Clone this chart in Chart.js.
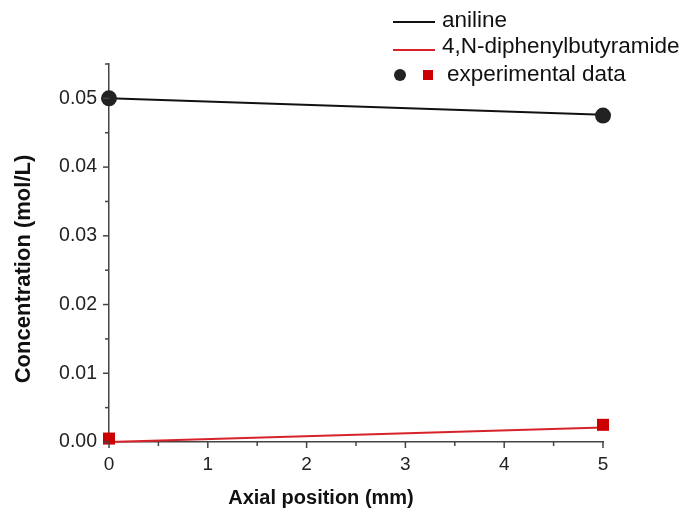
<!DOCTYPE html>
<html>
<head>
<meta charset="utf-8">
<script src="https://cdn.jsdelivr.net/npm/chart.js@4"></script>
<style>
  body { margin: 0; background: #fff; }
  #wrap { width: 694px; height: 513px; position: relative; }
</style>
</head>
<body>
<div id="wrap"><canvas id="chart"></canvas></div>
<script>
// axial positions (mm)
const positions = [0, 5];
// model curves
const anilineModel = [0.05, 0.0476];
const amideModel = [0, 0.0021];
// measured points
const anilineExp = [0.05, 0.0475];
const amideExp = [0.0005, 0.0025];

const legendItems = ['aniline', '4,N-diphenylbutyramide', 'experimental data'];
const xTitle = 'Axial position (mm)';
const yTitle = 'Concentration (mol/L)';

const BLACK = '#111';
const DOT = '#222';
const RED = '#cc0000';
const RED_LINE = '#d8222a';

const pts = ys => positions.map((x, i) => ({ x: x, y: ys[i] }));

// tick marks, axis titles and the legend box
const extras = {
    id: 'extras',
    afterDraw(chart) {
        const ctx = chart.ctx;
        const xs = chart.scales.x, ys = chart.scales.y;
        const area = chart.chartArea;
        ctx.save();
        ctx.strokeStyle = '#444';
        ctx.lineWidth = 1.5;
        // y ticks every 0.005, long ones every 0.01
        for (let i = 0; i <= 11; i++) {
            const py = ys.getPixelForValue(i * 0.005);
            const len = i % 2 === 0 ? 6 : 4;
            ctx.beginPath();
            ctx.moveTo(area.left, py);
            ctx.lineTo(area.left - len, py);
            ctx.stroke();
        }
        // x ticks every 0.5
        for (let i = 0; i <= 10; i++) {
            const px = xs.getPixelForValue(i * 0.5);
            const len = i % 2 === 0 ? 6 : 4;
            ctx.beginPath();
            ctx.moveTo(px, area.bottom);
            ctx.lineTo(px, area.bottom + len);
            ctx.stroke();
        }

        // axis titles
        ctx.fillStyle = BLACK;
        ctx.font = 'bold 20px "Liberation Sans", Arial, sans-serif';
        ctx.textAlign = 'center';
        ctx.textBaseline = 'middle';
        ctx.fillText(xTitle, 321, 498);
        ctx.save();
        ctx.translate(24, 269);
        ctx.rotate(-Math.PI / 2);
        ctx.font = 'bold 22px "Liberation Sans", Arial, sans-serif';
        ctx.fillText(yTitle, 0, 0);
        ctx.restore();

        // legend
        ctx.font = '22.5px "Liberation Sans", Arial, sans-serif';
        ctx.textAlign = 'left';
        ctx.lineWidth = 2;
        ctx.strokeStyle = BLACK;
        ctx.beginPath(); ctx.moveTo(393, 22); ctx.lineTo(435, 22); ctx.stroke();
        ctx.fillText(legendItems[0], 442, 21);
        ctx.strokeStyle = RED_LINE;
        ctx.beginPath(); ctx.moveTo(393, 50); ctx.lineTo(435, 50); ctx.stroke();
        ctx.fillText(legendItems[1], 442, 47);
        ctx.fillStyle = DOT;
        ctx.beginPath(); ctx.arc(400, 75, 6, 0, Math.PI * 2); ctx.fill();
        ctx.fillStyle = RED;
        ctx.fillRect(423, 70, 10, 10);
        ctx.fillStyle = BLACK;
        ctx.fillText(legendItems[2], 447, 75);
        ctx.restore();
    }
};

new Chart(document.getElementById('chart'), {
    type: 'scatter',
    data: {
        datasets: [
            { data: pts(anilineModel), showLine: true, borderColor: BLACK, borderWidth: 2, pointRadius: 0, order: 2, clip: false },
            { data: pts(amideModel), showLine: true, borderColor: RED_LINE, borderWidth: 2, pointRadius: 0, order: 2, clip: false },
            { data: pts(anilineExp), showLine: false, pointStyle: 'circle', pointRadius: 8, backgroundColor: DOT, borderColor: DOT, borderWidth: 0, order: 1, clip: false },
            { data: pts(amideExp), showLine: false, pointStyle: 'rect', pointRadius: 8.5, backgroundColor: RED, borderColor: RED, borderWidth: 0, order: 1, clip: false }
        ]
    },
    options: {
        responsive: true,
        maintainAspectRatio: false,
        animation: false,
        layout: { padding: { left: 0, right: 91, top: 64, bottom: 0 } },
        plugins: { legend: { display: false }, tooltip: { enabled: false } },
        scales: {
            x: {
                type: 'linear', min: 0, max: 5,
                afterFit: s => { s.height = 71; },
                grid: { display: false, drawTicks: false },
                border: { display: true, color: '#444', width: 1.5 },
                ticks: { stepSize: 1, padding: 11, color: '#222', font: { family: '"Liberation Sans", Arial, sans-serif', size: 19 } }
            },
            y: {
                type: 'linear', min: 0, max: 0.055,
                afterFit: s => { s.width = 109; },
                grid: { display: false, drawTicks: false },
                border: { display: true, color: '#444', width: 1.5 },
                ticks: {
                    stepSize: 0.01, includeBounds: false, padding: 12, color: '#222',
                    font: { family: '"Liberation Sans", Arial, sans-serif', size: 19.5 },
                    callback: v => v.toFixed(2)
                }
            }
        }
    },
    plugins: [extras]
});
</script>
</body>
</html>
